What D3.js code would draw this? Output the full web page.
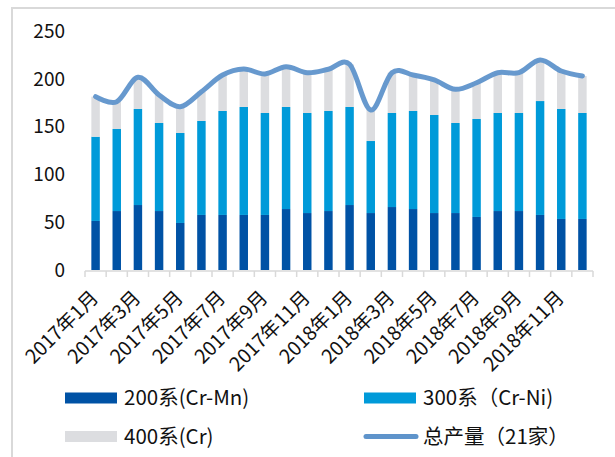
<!DOCTYPE html>
<html lang="zh">
<head>
<meta charset="UTF-8">
<title>不锈钢产量</title>
<script src="https://cdn.jsdelivr.net/npm/d3@7/dist/d3.min.js"></script>
<style>
  body { margin: 0; background: #fff; }
  text { font-family: "Noto Sans CJK SC", "Noto Sans", sans-serif; fill: #111; }
</style>
</head>
<body>
<div id="chart"></div>
<script>
// months 2017-01 .. 2018-12
const months = [
  "2017年1月","2017年2月","2017年3月","2017年4月","2017年5月","2017年6月",
  "2017年7月","2017年8月","2017年9月","2017年10月","2017年11月","2017年12月",
  "2018年1月","2018年2月","2018年3月","2018年4月","2018年5月","2018年6月",
  "2018年7月","2018年8月","2018年9月","2018年10月","2018年11月","2018年12月"
];
// 200系 (Cr-Mn)
const s200 = [51.4, 61.8, 68.1, 61.8, 49.3, 57.7, 57.7, 57.7, 57.7, 63.9, 59.7, 61.8,
              68.1, 59.7, 66.0, 63.9, 59.7, 59.7, 55.6, 61.8, 61.8, 57.7, 53.5, 53.5];
// 300系 (Cr-Ni)
const s300 = [88.3, 86.0, 100.7, 92.3, 94.3, 98.5, 109.0, 113.2, 106.9, 107.0, 104.9, 104.9,
              102.8, 75.5, 98.6, 102.8, 102.8, 94.4, 102.7, 102.8, 102.8, 119.4, 115.3, 111.1];
// 400系 (Cr)
const s400 = [42.0, 28.6, 33.2, 29.3, 27.6, 30.7, 37.7, 39.8, 40.9, 42.2, 42.2, 43.7,
              44.7, 32.5, 42.2, 37.7, 36.7, 35.3, 38.0, 42.2, 42.2, 43.0, 39.8, 38.8];
// 总产量（21家）
const total = [181.7, 176.4, 202.0, 183.4, 171.2, 186.9, 204.4, 210.7, 205.5, 213.1, 206.8, 210.4,
               215.6, 167.7, 206.8, 204.4, 199.2, 189.4, 196.3, 206.8, 206.8, 220.1, 208.6, 203.4];
const yTicks = [0, 50, 100, 150, 200, 250];

const W = 615, H = 457;
const plot = {left: 85, right: 593, top: 31.5, bottom: 270};
const colors = {s200: "#0052a5", s300: "#009ad9", s400: "#dcdde0", line: "#5f94cb"};

const svg = d3.select("#chart").append("svg")
  .attr("width", W).attr("height", H);

// outer frame
svg.append("rect")
  .attr("x", 12).attr("y", 8).attr("width", 620).attr("height", 470)
  .attr("fill", "none").attr("stroke", "#d9d9d9").attr("stroke-width", 2);

const x = d3.scaleBand().domain(months)
  .range([plot.left, plot.right]).paddingInner(0.6).paddingOuter(0.3);
const y = d3.scaleLinear().domain([0, 250]).range([plot.bottom, plot.top]);

const rows = months.map((m, i) => ({month: m, s200: s200[i], s300: s300[i], s400: s400[i]}));
const stack = d3.stack().keys(["s200", "s300", "s400"]);
const layers = stack(rows);

svg.append("g").selectAll("g")
  .data(layers).enter().append("g")
  .attr("fill", d => colors[d.key])
  .selectAll("rect")
  .data(d => d).enter().append("rect")
  .attr("x", d => x(d.data.month))
  .attr("width", x.bandwidth())
  .attr("y", d => y(d[1]))
  .attr("height", d => y(d[0]) - y(d[1]));

// y axis labels (no axis line)
const yAxis = svg.append("g")
  .attr("transform", "translate(" + 72 + ",0)")
  .call(d3.axisLeft(y).tickValues(yTicks).tickSize(0).tickPadding(7));
yAxis.select(".domain").remove();
yAxis.selectAll(".tick text")
  .attr("font-size", 19)
  .attr("font-family", "Noto Sans CJK SC")
  .attr("fill", "#111");

// x axis line and ticks at category boundaries
const step = x.step();
const xg = svg.append("g");
xg.append("line")
  .attr("x1", plot.left).attr("x2", plot.right)
  .attr("y1", plot.bottom + 1).attr("y2", plot.bottom + 1)
  .attr("stroke", "#d9d9d9").attr("stroke-width", 1.5);
xg.selectAll(".tk")
  .data(d3.range(months.length + 1)).enter().append("line")
  .attr("x1", i => plot.left + i * step).attr("x2", i => plot.left + i * step)
  .attr("y1", plot.bottom + 1).attr("y2", plot.bottom + 7)
  .attr("stroke", "#d9d9d9").attr("stroke-width", 1.5);

xg.selectAll(".xl")
  .data(months.filter((m, i) => i % 2 === 0)).enter().append("text")
  .attr("text-anchor", "end")
  .attr("font-size", 19.5)
  .attr("transform", m => "translate(" + (x(m) + x.bandwidth() / 2 + 4) + "," + (plot.bottom + 29) + ") rotate(-45)")
  .text(m => m);

// total line
const line = d3.line()
  .x((d, i) => x(months[i]) + x.bandwidth() / 2)
  .y(d => y(d))
  .curve(d3.curveCatmullRom.alpha(0));
svg.append("path")
  .datum(total)
  .attr("d", line)
  .attr("fill", "none")
  .attr("stroke", colors.line)
  .attr("stroke-width", 5)
  .attr("stroke-linecap", "round")
  .attr("stroke-opacity", 0.95);

// legend
const legend = [
  {label: "200系(Cr-Mn)", key: "s200", x: 65, y: 398, type: "rect"},
  {label: "300系（Cr-Ni)", key: "s300", x: 364, y: 398, type: "rect"},
  {label: "400系(Cr)", key: "s400", x: 65, y: 436.5, type: "rect"},
  {label: "总产量（21家）", key: "line", x: 364, y: 436.5, type: "line"}
];
const lg = svg.append("g").selectAll("g").data(legend).enter().append("g")
  .attr("transform", d => "translate(" + d.x + "," + d.y + ")");
lg.filter(d => d.type === "rect").append("rect")
  .attr("x", 0).attr("y", -5.5).attr("width", 52).attr("height", 11)
  .attr("fill", d => colors[d.key]);
lg.filter(d => d.type === "line").append("line")
  .attr("x1", 2).attr("x2", 52).attr("y1", 0).attr("y2", 0)
  .attr("stroke", colors.line).attr("stroke-width", 5).attr("stroke-linecap", "round");
lg.append("text")
  .attr("x", 59).attr("y", 0).attr("dy", "0.35em")
  .attr("font-size", 20.5)
  .text(d => d.label);
</script>
</body>
</html>
